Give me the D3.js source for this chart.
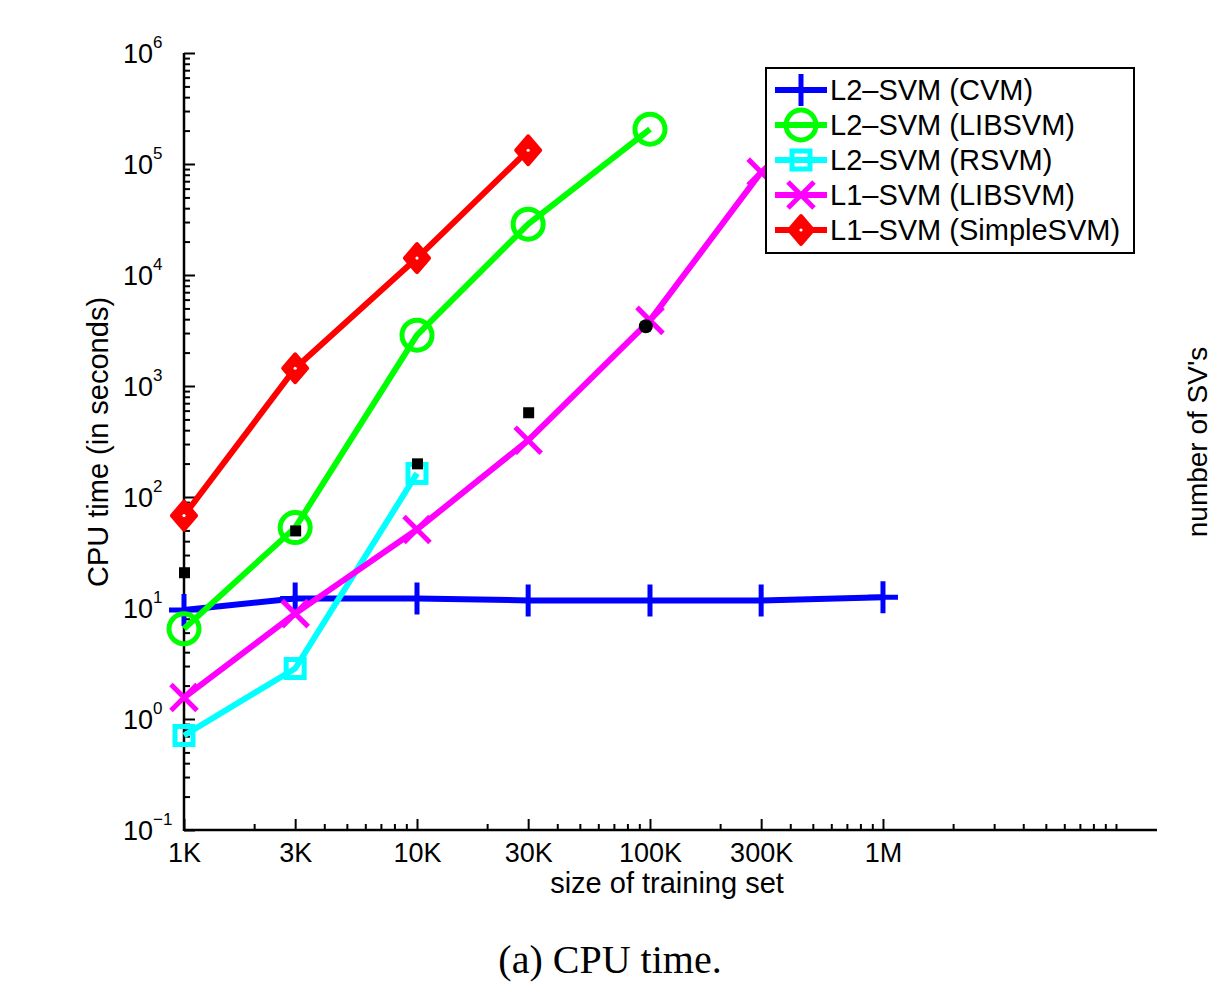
<!DOCTYPE html>
<html>
<head>
<meta charset="utf-8">
<script src="https://cdn.jsdelivr.net/npm/d3@7"></script>
<style>
  body { margin: 0; background: #fff; }
  svg { display: block; }
  text { font-family: "Liberation Sans", Arial, Helvetica, sans-serif; fill: #000; }
</style>
</head>
<body>
<div id="viz"></div>
<script>
// -----------------------------
// DATA
// -----------------------------
const sizes = [1e3, 3e3, 1e4, 3e4, 1e5, 3e5, 1e6];
const sizeLabels = ["1K", "3K", "10K", "30K", "100K", "300K", "1M"];
const yExponents = [-1, 0, 1, 2, 3, 4, 5, 6];

const cvmL2     = [9.6, 12.2, 12.2, 11.7, 11.7, 11.7, 12.5];
const libsvmL2  = [6.5, 53, 2870, 28700, 206000];
const rsvmL2    = [0.71, 2.85, 163];
const libsvmL1  = [1.56, 8.9, 51, 324, 3900, 84500];
const simpleL1  = [68, 1445, 14200, 133000];

// unlabeled black points
const blackSqX = [1e3, 3e3, 1e4, 3e4];
const blackSqY = [21, 50, 201, 580];
const blackDotX = [9.6e4];
const blackDotY = [3450];

const seriesNames = [
  "L2\u2013SVM (CVM)",
  "L2\u2013SVM (LIBSVM)",
  "L2\u2013SVM (RSVM)",
  "L1\u2013SVM (LIBSVM)",
  "L1\u2013SVM (SimpleSVM)"
];

const series = [
  { name: seriesNames[0], values: cvmL2,    color: "#0000ff", marker: "plus" },
  { name: seriesNames[1], values: libsvmL2, color: "#00ff00", marker: "circle" },
  { name: seriesNames[2], values: rsvmL2,   color: "#00ffff", marker: "square" },
  { name: seriesNames[3], values: libsvmL1, color: "#ff00ff", marker: "cross" },
  { name: seriesNames[4], values: simpleL1, color: "#ff0000", marker: "diamond" }
];

// -----------------------------
// SETUP
// -----------------------------
const width = 1215, height = 984;

const svg = d3.select("#viz")
  .append("svg")
  .attr("width", width)
  .attr("height", height);

const x = d3.scaleLog().domain([1e3, 1.5e7]).range([184, 1157]);
const y = d3.scaleLog().domain([0.1, 1e6]).range([830, 53]);

// -----------------------------
// AXES
// -----------------------------
const isPow10 = v => Math.abs(Math.log10(v) - Math.round(Math.log10(v))) < 1e-9;
const isMajorX = v => sizes.some(s => Math.abs(s - v) / s < 1e-9);

const xMinor = x.ticks().filter(v => !isMajorX(v));
const yMinor = y.ticks().filter(v => !isPow10(v));
const yMajor = yExponents.map(e => Math.pow(10, e));

// minor ticks (inward)
svg.append("g")
  .attr("transform", "translate(0,830)")
  .call(d3.axisBottom(x).tickValues(xMinor).tickSize(-6).tickFormat(""))
  .call(g => g.select(".domain").remove());

svg.append("g")
  .attr("transform", "translate(184,0)")
  .call(d3.axisLeft(y).tickValues(yMinor).tickSize(-6).tickFormat(""))
  .call(g => g.select(".domain").remove());

// major ticks + labels
const xAxis = svg.append("g")
  .attr("transform", "translate(0,830)")
  .call(d3.axisBottom(x).tickValues(sizes).tickSize(-11).tickPadding(0)
    .tickFormat((d, i) => sizeLabels[i]));
xAxis.select(".domain").remove();
xAxis.selectAll("text")
  .attr("y", 32)
  .attr("dy", 0)
  .style("font-size", "27px")
  .style("font-family", "'Liberation Sans', Arial, sans-serif");

const yAxis = svg.append("g")
  .attr("transform", "translate(184,0)")
  .call(d3.axisLeft(y).tickValues(yMajor).tickSize(-11).tickFormat(""));
yAxis.select(".domain").remove();

svg.selectAll("g.tick line").attr("stroke", "#000").attr("stroke-width", 2);

// y labels as 10^e
const yLab = svg.append("g");
yExponents.forEach(e => {
  const t = yLab.append("text")
    .attr("x", 123)
    .attr("y", y(Math.pow(10, e)) + 10)
    .style("font-size", "27px");
  t.append("tspan").text("10");
  t.append("tspan")
    .attr("dy", -15)
    .style("font-size", "17px")
    .text(e < 0 ? "\u2212" + Math.abs(e) : String(e));
});

// axis lines
svg.append("line")
  .attr("x1", 184).attr("x2", 1157).attr("y1", 830).attr("y2", 830)
  .attr("stroke", "#000").attr("stroke-width", 2.5);
svg.append("line")
  .attr("x1", 184).attr("x2", 184).attr("y1", 53).attr("y2", 831)
  .attr("stroke", "#000").attr("stroke-width", 2.5);

// axis titles
svg.append("text")
  .attr("x", 667).attr("y", 893)
  .attr("text-anchor", "middle")
  .style("font-size", "29px")
  .text("size of training set");

svg.append("text")
  .attr("transform", "translate(108,442) rotate(-90)")
  .attr("text-anchor", "middle")
  .style("font-size", "29px")
  .text("CPU time (in seconds)");

svg.append("text")
  .attr("transform", "translate(1207,442) rotate(-90)")
  .attr("text-anchor", "middle")
  .style("font-size", "28px")
  .text("number of SV's");

// caption
svg.append("text")
  .attr("x", 610).attr("y", 973)
  .attr("text-anchor", "middle")
  .style("font-family", "'Liberation Serif', 'Times New Roman', serif")
  .style("font-size", "40px")
  .text("(a) CPU time.");

// -----------------------------
// MARKERS
// -----------------------------
function drawMarker(g, type, cx, cy, color) {
  if (type === "plus") {
    g.append("path")
      .attr("d", `M${cx - 15},${cy}H${cx + 15}M${cx},${cy - 16}V${cy + 16}`)
      .attr("stroke", color).attr("stroke-width", 5).attr("fill", "none");
  } else if (type === "circle") {
    g.append("circle")
      .attr("cx", cx).attr("cy", cy).attr("r", 15)
      .attr("stroke", color).attr("stroke-width", 5).attr("fill", "none");
  } else if (type === "square") {
    g.append("rect")
      .attr("x", cx - 9).attr("y", cy - 9).attr("width", 18).attr("height", 18)
      .attr("stroke", color).attr("stroke-width", 5).attr("fill", "none");
  } else if (type === "cross") {
    g.append("path")
      .attr("d", `M${cx - 13},${cy - 13}L${cx + 13},${cy + 13}M${cx - 13},${cy + 13}L${cx + 13},${cy - 13}`)
      .attr("stroke", color).attr("stroke-width", 5).attr("fill", "none");
  } else if (type === "diamond") {
    g.append("path")
      .attr("d", `M${cx},${cy - 14}L${cx + 12},${cy}L${cx},${cy + 14}L${cx - 12},${cy}Z`)
      .attr("stroke", color).attr("stroke-width", 4).attr("fill", color)
      .attr("stroke-linejoin", "round");
    g.append("circle")
      .attr("cx", cx).attr("cy", cy).attr("r", 1.6)
      .attr("fill", "#fff");
  }
}

// -----------------------------
// SERIES
// -----------------------------
const line = d3.line()
  .x(d => x(d[0]))
  .y(d => y(d[1]));

const plot = svg.append("g");
series.forEach(s => {
  const pts = s.values.map((v, i) => [sizes[i], v]);
  const g = plot.append("g");
  g.append("path")
    .datum(pts)
    .attr("d", line)
    .attr("fill", "none")
    .attr("stroke", s.color)
    .attr("stroke-width", 6)
    .attr("stroke-linejoin", "round");
  pts.forEach(p => drawMarker(g, s.marker, x(p[0]), y(p[1]), s.color));
});

// black points
plot.selectAll("rect.black")
  .data(blackSqX.map((v, i) => [v, blackSqY[i]]))
  .join("rect")
  .attr("class", "black")
  .attr("x", d => x(d[0]) - 5)
  .attr("y", d => y(d[1]) - 5)
  .attr("width", 11)
  .attr("height", 11)
  .attr("fill", "#000");

plot.selectAll("circle.black")
  .data(blackDotX.map((v, i) => [v, blackDotY[i]]))
  .join("circle")
  .attr("class", "black")
  .attr("cx", d => x(d[0]))
  .attr("cy", d => y(d[1]))
  .attr("r", 7)
  .attr("fill", "#000");

// -----------------------------
// LEGEND
// -----------------------------
const legend = svg.append("g");
legend.append("rect")
  .attr("x", 766).attr("y", 68)
  .attr("width", 368).attr("height", 185)
  .attr("fill", "#fff")
  .attr("stroke", "#000")
  .attr("stroke-width", 2);

series.forEach((s, i) => {
  const cy = 90 + i * 35;
  const g = legend.append("g");
  g.append("line")
    .attr("x1", 775).attr("x2", 827).attr("y1", cy).attr("y2", cy)
    .attr("stroke", s.color).attr("stroke-width", 6);
  drawMarker(g, s.marker, 801, cy, s.color);
  g.append("text")
    .attr("x", 830).attr("y", cy + 10)
    .style("font-size", "29px")
    .text(s.name);
});
</script>
</body>
</html>
